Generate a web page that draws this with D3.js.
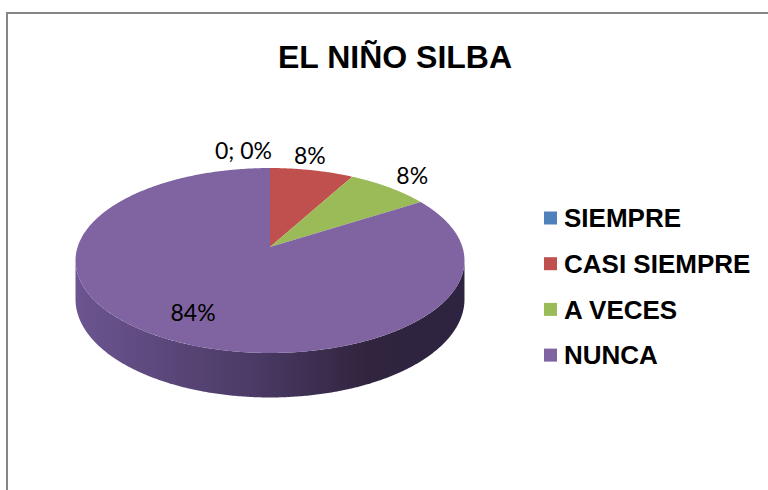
<!DOCTYPE html>
<html>
<head>
<meta charset="utf-8">
<script src="https://cdn.jsdelivr.net/npm/d3@7"></script>
<style>
  body { margin: 0; background: #fff; }
  svg { display: block; }
</style>
</head>
<body>
<div id="chart"></div>
<script>
var categories = ["SIEMPRE", "CASI SIEMPRE", "A VECES", "NUNCA"];
var values = [0, 8, 8, 84];
var labels = ["0; 0%", "8%", "8%", "84%"];
var colors = ["#4F81BD", "#C0504D", "#9BBB59", "#8064A2"];

var W = 768, H = 490;
var svg = d3.select("#chart").append("svg").attr("width", W).attr("height", H);

// frame
svg.append("rect").attr("x", 7).attr("y", 13).attr("width", 800).attr("height", 500)
  .attr("fill", "#fff").attr("stroke", "#868686").attr("stroke-width", 2);

svg.append("text").attr("x", 395).attr("y", 68).attr("text-anchor", "middle")
  .attr("font-family", "Liberation Sans, Arial, sans-serif").attr("font-weight", "bold")
  .attr("font-size", 32).attr("fill", "#000").text("EL NIÑO SILBA");

var color = d3.scaleOrdinal().domain(categories).range(colors);

// fake 3d: tilted disc with a bit of perspective
var cx = 270, cy = 247, A = 192.4, B = 90.5, s = 0.146, depth = 38;
function project(theta, r, down) {
  var u = r * Math.sin(theta), v = -r * Math.cos(theta);
  var z = 1 - s * v;
  return [cx + A * u / z, cy + (B * v + (down ? depth : 0)) / z];
}

var pie = d3.pie().sort(null).value(function(d) { return d; });
var arcs = pie(values);
var line = d3.line();

// side wall: find left/right extremes of top ellipse
var step = Math.PI / 360, thR = 0, thL = 0, maxX = -1e9, minX = 1e9;
for (var t = 0; t < 2 * Math.PI; t += step) {
  var p = project(t, 1, false);
  if (p[0] > maxX) { maxX = p[0]; thR = t; }
  if (p[0] < minX) { minX = p[0]; thL = t; }
}
var sidePts = [];
for (var t = thR; t <= thL; t += step) sidePts.push(project(t, 1, false));
sidePts.push(project(thL, 1, false));
for (var t = thL; t >= thR; t -= step) sidePts.push(project(t, 1, true));

var defs = svg.append("defs");
var grad = defs.append("linearGradient").attr("id", "side")
  .attr("gradientUnits", "userSpaceOnUse")
  .attr("x1", minX).attr("x2", maxX).attr("y1", 0).attr("y2", 0);
grad.append("stop").attr("offset", "0%").attr("stop-color", "#6C5590");
grad.append("stop").attr("offset", "45%").attr("stop-color", "#4B3B66");
grad.append("stop").attr("offset", "75%").attr("stop-color", "#30243F");
grad.append("stop").attr("offset", "100%").attr("stop-color", "#2E2340");

svg.append("path").attr("d", line(sidePts) + "Z").attr("fill", "url(#side)");

// top slices
arcs.forEach(function(a, i) {
  if (a.endAngle - a.startAngle <= 0) return;
  var pts = [project(0, 0, false)];
  var n = Math.max(2, Math.ceil((a.endAngle - a.startAngle) / step));
  for (var k = 0; k <= n; k++) {
    pts.push(project(a.startAngle + (a.endAngle - a.startAngle) * k / n, 1, false));
  }
  svg.append("path").attr("d", line(pts) + "Z").attr("fill", color(categories[i]));
});

// data labels
arcs.forEach(function(a, i) {
  var mid = (a.startAngle + a.endAngle) / 2;
  var inside = (a.endAngle - a.startAngle) > Math.PI;
  var p = project(mid, inside ? 0.75 : 1.22, false);
  var anchor = "middle";
  if (a.value === 0) { p = project(mid, 1.25, false); p[0] += 2; anchor = "end"; }
  else if (!inside && mid < Math.PI / 6) { p[0] -= 10; }
  svg.append("text").attr("x", p[0]).attr("y", p[1]).attr("dy", "0.35em")
    .attr("text-anchor", anchor)
    .attr("font-family", "Lato, sans-serif").attr("font-size", 23).attr("fill", "#000")
    .text(labels[i]);
});

// legend
var legend = svg.append("g").selectAll("g").data(categories).enter().append("g")
  .attr("transform", function(d, i) { return "translate(544," + (218 + i * 45.7) + ")"; });
legend.append("rect").attr("x", 0).attr("y", -6.5).attr("width", 13).attr("height", 13)
  .attr("fill", function(d) { return color(d); });
legend.append("text").attr("x", 20).attr("y", 0).attr("dy", "0.36em")
  .attr("font-family", "Liberation Sans, Arial, sans-serif").attr("font-weight", "bold")
  .attr("font-size", 26).attr("fill", "#000").text(function(d) { return d; });
</script>
</body>
</html>
